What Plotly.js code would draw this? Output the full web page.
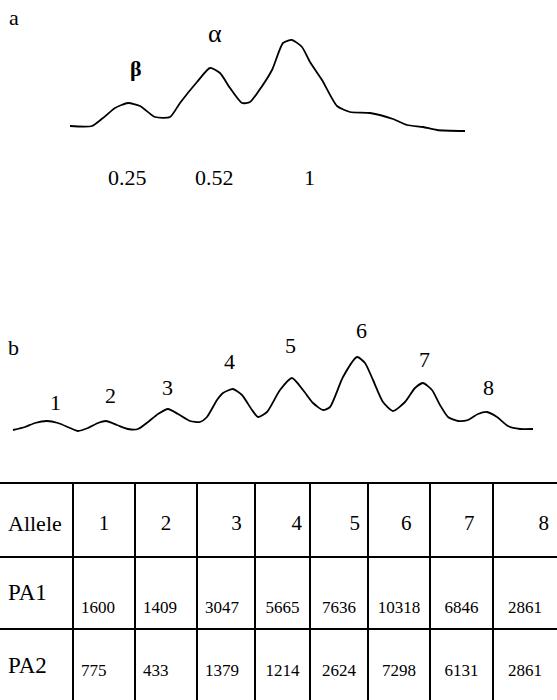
<!DOCTYPE html>
<html>
<head>
<meta charset="utf-8">
<script src="https://cdn.plot.ly/plotly-3.0.1.min.js"></script>
<style>
html,body{margin:0;padding:0;background:#fff;}
#chart{width:557px;height:700px;}
</style>
</head>
<body>
<div id="chart"></div>
<script>
// ---- Data ----
// Densitometric scan (a): migration position and intensity
const scanA_pos = [70, 92, 103, 115, 128, 140, 155, 170, 180, 197, 210, 220, 230, 242, 250, 258, 272, 283, 292, 302, 310, 322, 337, 350, 370, 393, 407, 423, 437, 465];
const scanA_int = [14, 14, 22, 32, 37, 34, 23, 23, 37, 58, 72, 67, 52, 37, 38, 48, 70, 97, 100, 93, 78, 60, 34, 28, 27, 21, 15, 13, 10, 9];
// Rf labels of scan (a)
const rfLabels = ['0.25', '0.52', '1'];
const bandLabels = ['\u03b2', '\u03b1'];

// Densitometric scan (b): migration position and intensity
const scanB_pos = [13, 25, 35, 47, 58, 70, 78, 88, 98, 106, 117, 128, 138, 148, 158, 168, 178, 190, 200, 207, 217, 223, 233, 242, 252, 258, 267, 280, 292, 303, 313, 323, 330, 343, 357, 365, 373, 383, 393, 405, 415, 423, 432, 440, 448, 458, 468, 478, 487, 497, 508, 520, 533];
const scanB_int = [10, 13, 17, 19, 17, 12, 9, 12, 17, 19, 15, 11, 11, 18, 26, 31, 26, 19, 18, 23, 40, 47, 51, 45, 30, 23, 28, 50, 62, 50, 37, 30, 33, 63, 83, 77, 60, 38, 29, 38, 52, 57, 50, 35, 23, 19, 20, 26, 28, 23, 14, 11, 11];

// Table
const alleles = ['1', '2', '3', '4', '5', '6', '7', '8'];
const pa1 = [1600, 1409, 3047, 5665, 7636, 10318, 6846, 2861];
const pa2 = [775, 433, 1379, 1214, 2624, 7298, 6131, 2861];
const rowNames = ['PA1', 'PA2'];
const firstHeader = 'Allele';

// ---- Layout helpers ----
const W = 557, H = 700;
const serif = 'Liberation Serif, Times New Roman, serif';
const fy = py => 1 - py / H; // pixel row -> paper fraction
const fx = px => px / W;     // pixel column -> paper fraction

const lineStyle = {color: '#000', width: 1.8, shape: 'spline', smoothing: 0.6};

const colW = [73, 62, 62, 58, 55, 58, 62, 63, 64];
const rowEdges = [483, 557, 629];     // horizontal rules of the table
const clear = 'rgba(0,0,0,0)';
const blankRow = n => Array(n).fill('');

// Text rows of the table: plotly tables have no vertical alignment, so each text
// row is a borderless table placed so that its text is centred in the ruled row.
function textRow(values, centerPx, sizes, align) {
  const f = Math.max.apply(null, sizes);
  const top = centerPx - 8 - 0.4 * f;
  return {
    type: 'table',
    domain: {x: [0, 1], y: [fy(top + 44), fy(top)]},
    columnwidth: colW,
    header: {values: values, height: 34, align: align,
      line: {color: clear, width: 0}, fill: {color: clear},
      font: {family: serif, size: sizes, color: '#000'}},
    cells: {values: []}
  };
}
// header alignment (trailing no-break spaces nudge right-aligned labels left)
const hdrAlign = ['left', 'center', 'center', 'right', 'right', 'right', 'right', 'right', 'right'];
const hdrTrail = [0, 0, 0, 1, 0, 0, 2, 2, 0];
const nb = n => '\u00a0'.repeat(n);
const headerText = [firstHeader].concat(alleles).map((t, i) => t + nb(hdrTrail[i]));
const numAlign = ['left', 'left', 'left', 'left', 'center', 'center', 'center', 'center', 'center'];
const sizes17 = Array(9).fill(17);
const nameSizes = [23].concat(Array(8).fill(17));

const traces = [
  {type: 'scatter', mode: 'lines', x: scanA_pos, y: scanA_int, xaxis: 'x', yaxis: 'y', line: lineStyle, hoverinfo: 'skip'},
  {type: 'scatter', mode: 'lines', x: scanB_pos, y: scanB_int, xaxis: 'x2', yaxis: 'y2', line: lineStyle, hoverinfo: 'skip'},
  textRow(headerText, 523, [22].concat(Array(8).fill(21)), hdrAlign),
  textRow([rowNames[0]].concat(blankRow(8)), 592, nameSizes, numAlign),
  textRow([''].concat(pa1), 607, sizes17, numAlign),
  textRow([rowNames[1]].concat(blankRow(8)), 665, nameSizes, numAlign),
  textRow([''].concat(pa2), 670, sizes17, numAlign)
];

// Table rules (open on the left, right and bottom as in the scan)
const rule = {color: '#000', width: 2};
const shapes = [];
rowEdges.forEach(py => shapes.push({type: 'line', xref: 'paper', yref: 'paper',
  x0: 0, x1: 1, y0: fy(py), y1: fy(py), line: rule}));
let acc = 0;
colW.slice(0, -1).forEach(w => {
  acc += w;
  shapes.push({type: 'line', xref: 'paper', yref: 'paper',
    x0: fx(acc), x1: fx(acc), y0: fy(rowEdges[0]), y1: 0, line: rule});
});

const hidden = {visible: false, showgrid: false, zeroline: false, fixedrange: true};

const ann = [];
function txt(text, x, py, size, extra) {
  ann.push(Object.assign({text: text, x: fx(x), y: fy(py), xref: 'paper', yref: 'paper',
    showarrow: false, xanchor: 'center', yanchor: 'middle',
    font: {family: serif, size: size, color: '#000'}}, extra || {}));
}
// panel letters
txt('a', 14, 18, 22);
txt('b', 13, 347, 22);
// band labels (a)
txt(bandLabels[0], 136, 68, 22, {font: {family: serif, size: 22, color: '#000', weight: 'bold'}});
txt(bandLabels[1], 215, 33, 26);
// Rf labels (a)
[127, 214, 309].forEach((x, i) => txt(rfLabels[i], x, 177, 22));
// allele numbers above peaks (b)
const bLblX = [55, 110, 167, 229, 290, 361, 424, 489];
const bLblY = [402, 395, 387, 361, 346, 330, 360, 387];
alleles.forEach((a, i) => txt(a, bLblX[i], bLblY[i], 22));

const layout = {
  width: W, height: H,
  margin: {l: 0, r: 0, t: 0, b: 0, pad: 0},
  paper_bgcolor: '#fff', plot_bgcolor: '#fff',
  showlegend: false,
  xaxis: Object.assign({domain: [0, 1], range: [0, W], anchor: 'y'}, hidden),
  yaxis: Object.assign({domain: [fy(200), 1], range: [-60, 140], anchor: 'x'}, hidden),
  xaxis2: Object.assign({domain: [0, 1], range: [0, W], anchor: 'y2'}, hidden),
  yaxis2: Object.assign({domain: [fy(450), fy(320)], range: [-10, 120], anchor: 'x2'}, hidden),
  shapes: shapes,
  annotations: ann
};

Plotly.newPlot('chart', traces, layout, {staticPlot: true, displayModeBar: false});
</script>
</body>
</html>
